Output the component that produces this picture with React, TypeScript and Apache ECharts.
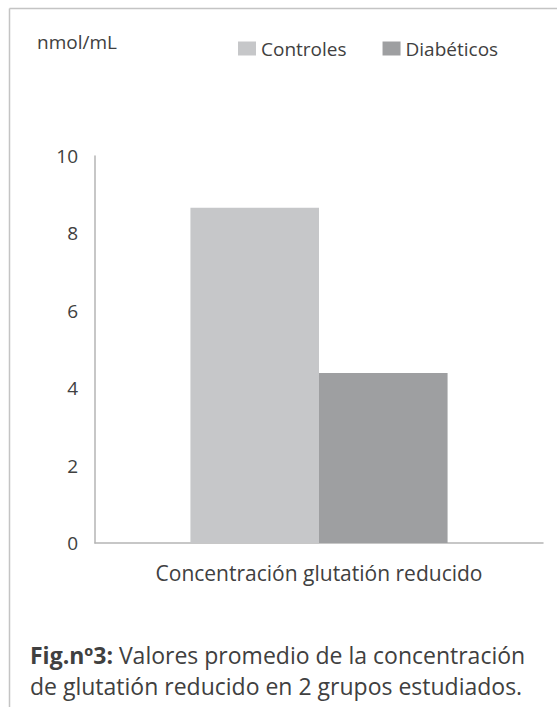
import React, { useEffect, useRef } from "react";
import * as echarts from "echarts";

const categories = ["Concentración glutatión reducido"];
const seriesNames = ["Controles", "Diabéticos"];
const controles = [8.66];
const diabeticos = [4.39];
const yTicks = [0, 2, 4, 6, 8, 10];
const unitLabel = "nmol/mL";
const captionBold = "Fig.nº3:";
const captionLine1 = " Valores promedio de la concentración";
const captionLine2 = "de glutatión reducido en 2 grupos estudiados.";

const FONT = "'Open Sans', 'Noto Sans', sans-serif";
const TEXT = "#404040";

export default function App() {
  const ref = useRef<HTMLDivElement>(null);
  useEffect(() => {
    if (!ref.current) return;
    const chart = echarts.init(ref.current, undefined, { renderer: "svg" });
    chart.setOption({
      animation: false,
      backgroundColor: "#ffffff",
      textStyle: { fontFamily: FONT },
      legend: {
        data: seriesNames,
        left: 233,
        top: 34,
        itemWidth: 18,
        itemHeight: 14,
        itemGap: 36,
        icon: "rect",
        textStyle: { fontSize: 19, color: TEXT, fontFamily: FONT, fontWeight: 400 },
      },
      grid: { left: 95, right: 14, top: 156, bottom: 164 },
      xAxis: {
        type: "category",
        data: categories,
        axisLine: { show: true, lineStyle: { color: "#b5b5b5", width: 1.5 } },
        axisTick: { show: false },
        axisLabel: { fontSize: 21, color: TEXT, margin: 19, fontFamily: FONT, fontWeight: 400 },
      },
      yAxis: {
        type: "value",
        min: yTicks[0],
        max: yTicks[yTicks.length - 1],
        interval: 2,
        axisLine: { show: true, lineStyle: { color: "#b5b5b5", width: 1.5 } },
        axisTick: { show: false },
        splitLine: { show: false },
        axisLabel: { fontSize: 19, color: TEXT, margin: 17, fontFamily: FONT, fontWeight: 400 },
      },
      series: [
        {
          name: seriesNames[0],
          type: "bar",
          data: controles,
          itemStyle: { color: "#c6c7c9" },
          barGap: "0%",
          barCategoryGap: "42.6%",
        },
        {
          name: seriesNames[1],
          type: "bar",
          data: diabeticos,
          itemStyle: { color: "#9e9fa1" },
          barGap: "0%",
          barCategoryGap: "42.6%",
        },
      ],
      graphic: [
        {
          type: "line",
          shape: { x1: 9.5, y1: 8.5, x2: 557, y2: 8.5 },
          style: { stroke: "#c4c4c4", lineWidth: 1.5 },
        },
        {
          type: "line",
          shape: { x1: 9.5, y1: 8.5, x2: 9.5, y2: 707 },
          style: { stroke: "#c4c4c4", lineWidth: 1.5 },
        },
        {
          type: "text",
          left: 37,
          top: 32,
          style: { text: unitLabel, fontSize: 19, fill: TEXT, fontFamily: FONT, fontWeight: 400 },
        },
        {
          type: "text",
          left: 30,
          top: 643,
          style: {
            text: "{b|" + captionBold + "}{r|" + captionLine1 + "}\n{r|" + captionLine2 + "}",
            fontFamily: FONT,
            rich: {
              b: { fontSize: 23, fontWeight: "bold", fill: TEXT, lineHeight: 31, fontFamily: FONT },
              r: { fontSize: 23, fontWeight: 400, fill: TEXT, lineHeight: 31, fontFamily: FONT },
            },
          },
        },
      ],
    });
    return () => chart.dispose();
  }, []);
  return (
    <div
      ref={ref}
      style={{ position: "absolute", left: 0, top: 0, width: 557, height: 707 }}
    />
  );
}
